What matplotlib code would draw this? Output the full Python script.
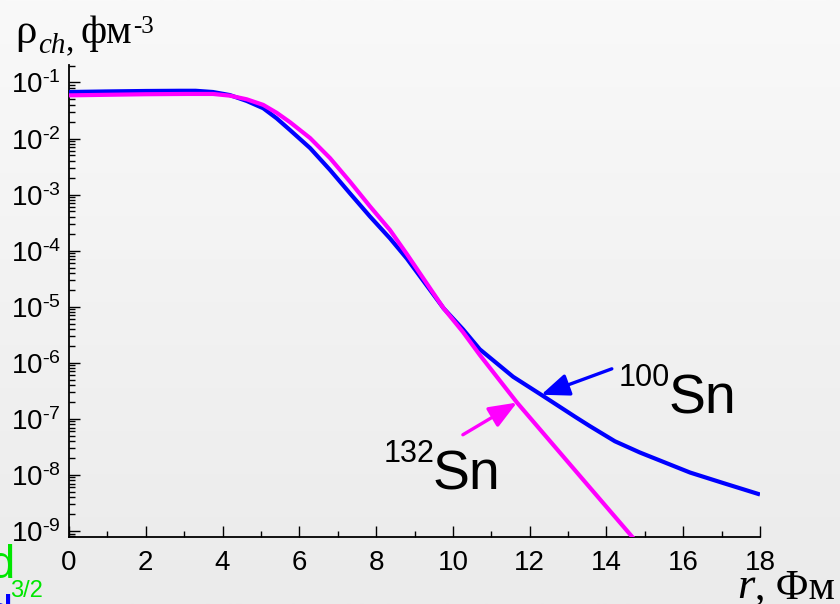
import numpy as np
import matplotlib
matplotlib.use("Agg")
import matplotlib.pyplot as plt
from matplotlib.ticker import LogLocator, FixedLocator, NullFormatter, FuncFormatter

# Charge density distributions rho_ch(r) for 100Sn and 132Sn (fm^-3)
r_sn100 = [0.0, 1.0, 2.0, 2.89, 3.3, 3.75, 4.19, 4.63, 5.06, 5.41, 5.76, 6.28,
           6.80, 7.32, 7.84, 8.36, 8.80, 9.76, 10.26, 10.7, 11.57, 12.3, 13.2,
           13.57, 14.22, 14.87, 16.18, 17.04, 18.0]
rho_sn100 = [6.76e-2, 6.92e-2, 7.05e-2, 7.11e-2, 7.11e-2, 6.76e-2, 5.96e-2,
             4.68e-2, 3.47e-2, 2.29e-2, 1.41e-2, 6.76e-3, 2.75e-3, 1.05e-3,
             4.07e-4, 1.66e-4, 7.24e-5, 9.33e-6, 3.98e-6, 1.74e-6, 5.62e-7,
             2.69e-7, 1.07e-7, 7.40e-8, 3.98e-8, 2.51e-8, 1.10e-8, 7.16e-9,
             4.47e-9]

r_sn132 = [0.0, 1.0, 2.0, 3.07, 3.75, 4.19, 4.63, 5.06, 5.41, 5.76, 6.28, 6.80,
           7.32, 7.84, 8.36, 8.80, 9.76, 10.26, 10.7, 11.67, 13.31, 14.69, 15.0]
rho_sn132 = [5.89e-2, 6.03e-2, 6.17e-2, 6.24e-2, 6.24e-2, 5.82e-2, 5.01e-2,
             3.98e-2, 2.88e-2, 1.95e-2, 1.02e-2, 4.47e-3, 1.70e-3, 6.17e-4,
             2.34e-4, 8.71e-5, 9.33e-6, 3.55e-6, 1.38e-6, 1.95e-7, 9.55e-9,
             7.59e-10, 4.27e-10]

x_ticks = [0, 2, 4, 6, 8, 10, 12, 14, 16, 18]
y_decades = [1e-9, 1e-8, 1e-7, 1e-6, 1e-5, 1e-4, 1e-3, 1e-2, 1e-1]

W, H = 840, 604
plt.rcParams["mathtext.fontset"] = "custom"
plt.rcParams["mathtext.sf"] = "Liberation Sans"
plt.rcParams["mathtext.rm"] = "Liberation Serif"
plt.rcParams["mathtext.it"] = "Liberation Serif:italic"

fig = plt.figure(figsize=(W / 100, H / 100), dpi=100)


def fp(x, y):
    """pixel position -> figure fraction"""
    return x / W, 1 - y / H


# soft vertical gradient backdrop
bg = fig.add_axes([0, 0, 1, 1], zorder=0)
grad = np.linspace(249, 235, 256)[:, None] / 255.0
bg.imshow(np.dstack([grad, grad, grad]), aspect="auto", extent=[0, 1, 0, 1])
bg.set_axis_off()

ax = fig.add_axes([69 / W, 1 - 537 / H, (760 - 69) / W, (537 - 65) / H], zorder=1)
ax.patch.set_alpha(0)

ax.plot(r_sn100, rho_sn100, color="#0000ff", lw=3.0, solid_capstyle="butt",
        solid_joinstyle="round", zorder=3)
ax.plot(r_sn132, rho_sn132, color="#ff00ff", lw=3.0, solid_capstyle="butt",
        solid_joinstyle="round", zorder=3)

ax.set_yscale("log")
ax.set_xlim(0, 18)
ax.set_ylim(7.8e-10, 0.205)

for s in ("top", "right"):
    ax.spines[s].set_visible(False)
for s in ("left", "bottom"):
    ax.spines[s].set_linewidth(1.3)

ax.xaxis.set_major_locator(FixedLocator(x_ticks))
ax.xaxis.set_minor_locator(FixedLocator(np.arange(1, 18, 2)))
ax.yaxis.set_major_locator(FixedLocator(y_decades))
ax.yaxis.set_minor_locator(LogLocator(base=10, subs=np.arange(2, 10), numticks=100))
ax.yaxis.set_minor_formatter(NullFormatter())
ax.yaxis.set_major_formatter(
    FuncFormatter(lambda v, p: r"$\mathsf{10^{\text{-}%d}}$"
                  % abs(int(round(np.log10(v))))))

ax.tick_params(which="major", direction="in", length=8, width=1.0, labelsize=20)
ax.tick_params(which="minor", direction="in", length=4.5, width=1.0)
ax.tick_params(axis="x", which="major", pad=9)
ax.tick_params(axis="y", which="major", pad=6)
for lab in ax.get_xticklabels():
    lab.set_fontfamily("Liberation Sans")

# arrows pointing to each curve
arrow_style = "-|>,head_length=0.85,head_width=0.34"
tip100_r = 12.3
tip100 = 10 ** np.interp(tip100_r, r_sn100, np.log10(rho_sn100))
ax.annotate("", xy=(tip100_r, tip100), xytext=(14.14, 7.8e-7),
            arrowprops=dict(arrowstyle=arrow_style, mutation_scale=20, lw=2.4,
                            color="#0000ff", shrinkA=0, shrinkB=0), zorder=4)
tip132_r = 11.67
tip132 = 10 ** np.interp(tip132_r, r_sn132, np.log10(rho_sn132))
ax.annotate("", xy=(tip132_r, tip132), xytext=(10.26, 5.2e-8),
            arrowprops=dict(arrowstyle=arrow_style, mutation_scale=20, lw=2.4,
                            color="#ff00ff", shrinkA=0, shrinkB=0), zorder=4)

# nuclide labels
sans = "Liberation Sans"
serif = "Liberation Serif"
fig.text(*fp(619, 386), "100", fontsize=22, family=sans, va="baseline", zorder=5)
fig.text(*fp(669, 413), "Sn", fontsize=40, family=sans, va="baseline", zorder=5)
fig.text(*fp(384, 462), "132", fontsize=22, family=sans, va="baseline", zorder=5)
fig.text(*fp(433, 490), "Sn", fontsize=40, family=sans, va="baseline", zorder=5)

# axis titles
fig.text(*fp(15, 43), "ρ", fontsize=31, family=serif, va="baseline", zorder=5)
fig.text(*fp(38, 53), "ch", fontsize=21, family=serif, style="italic",
         va="baseline", zorder=5)
fig.text(*fp(66, 50), ",", fontsize=24, family=serif, va="baseline", zorder=5)
fig.text(*fp(80, 43), "фм", fontsize=29, family=serif, va="baseline", zorder=5)
fig.text(*fp(133, 33), "-3", fontsize=18, family=serif, va="baseline", zorder=5)

fig.text(*fp(737, 598), "r", fontsize=32, family=serif, style="italic",
         va="baseline", zorder=5)
fig.text(*fp(755, 598), ", Фм", fontsize=30, family=serif, va="baseline", zorder=5)

# fragments at the lower-left edge
fig.text(*fp(-11, 578), "d", fontsize=34, family=sans, color="#00e600",
         va="baseline", zorder=5)
fig.text(*fp(10, 597), "3/2", fontsize=17, family=sans, color="#00e600",
         va="baseline", zorder=5)
fig.text(*fp(-13, 628), "d", fontsize=34, family=sans, color="#0000ff",
         va="baseline", zorder=5)

fig.savefig("out.png", dpi=100)
